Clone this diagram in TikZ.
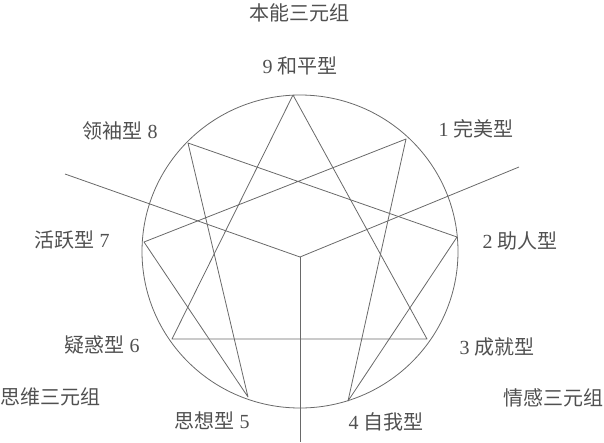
\documentclass[tikz,border=0pt]{standalone}
\usepackage{fontspec}
\setmainfont{Liberation Serif}
\newfontfamily\cjk{Noto Sans CJK SC}
\usepackage{tikz}
\usetikzlibrary{positioning}
\definecolor{linegray}{RGB}{105,105,105}
\definecolor{textgray}{RGB}{80,80,80}
\tikzstyle{typetext} = [inner sep=0pt, text=textgray, font=\fontsize{20}{21}\selectfont]
\tikzstyle{edge} = [draw=linegray, line width=0.8pt, line join=round]

\begin{document}
\begin{tikzpicture}[x=1pt, y=-1pt]
	\useasboundingbox (0,0) rectangle (604,442);
	
	% Points on the circle
	\coordinate (p9) at (293,95);
	\coordinate (p1) at (406,139);
	\coordinate (p2) at (457,237);
	\coordinate (p3) at (427,339);
	\coordinate (p4) at (348,401);
	\coordinate (p5) at (248,397);
	\coordinate (p6) at (172,339);
	\coordinate (p7) at (144,242);
	\coordinate (p8) at (188,143);
	\coordinate (hub) at (300,257);
	\coordinate (armL) at (65,174);
	\coordinate (armR) at (519,167);
	\coordinate (armD) at (300,442);
	
	% Labels
	\node (instinct) [typetext] at (299,13) {\cjk 本能三元组};
	\node (peace) [typetext] at (300,66) {9 {\cjk 和平型}};
	\node (perfect) [typetext] at (476,129) {1 {\cjk 完美型}};
	\node (helper) [typetext] at (520,241) {2 {\cjk 助人型}};
	\node (achiever) [typetext] at (497,347) {3 {\cjk 成就型}};
	\node (self) [typetext] at (386,422) {4 {\cjk 自我型}};
	\node (thinker) [typetext] at (212,421) {{\cjk 思想型} 5};
	\node (doubt) [typetext] at (102,345) {{\cjk 疑惑型} 6};
	\node (lively) [typetext] at (72,240) {{\cjk 活跃型} 7};
	\node (leader) [typetext] at (120,131) {{\cjk 领袖型} 8};
	\node (thinking) [typetext] at (50,397) {\cjk 思维三元组};
	\node (feeling) [typetext] at (553,398) {\cjk 情感三元组};
	
	% Circle
	\draw [edge] (300,251.5) ellipse [x radius=158, y radius=156.5];
	
	% Triangle and hexad
	\draw [edge] (p9) -- (p3) -- (p6) -- cycle;
	\draw [edge] (p1) -- (p4) -- (p2) -- (p8) -- (p5) -- (p7) -- cycle;
	
	% Dividing lines
	\draw [edge] (armL) -- (hub) -- (armR);
	\draw [edge] (hub) -- (armD);
	
\end{tikzpicture}
\end{document}
